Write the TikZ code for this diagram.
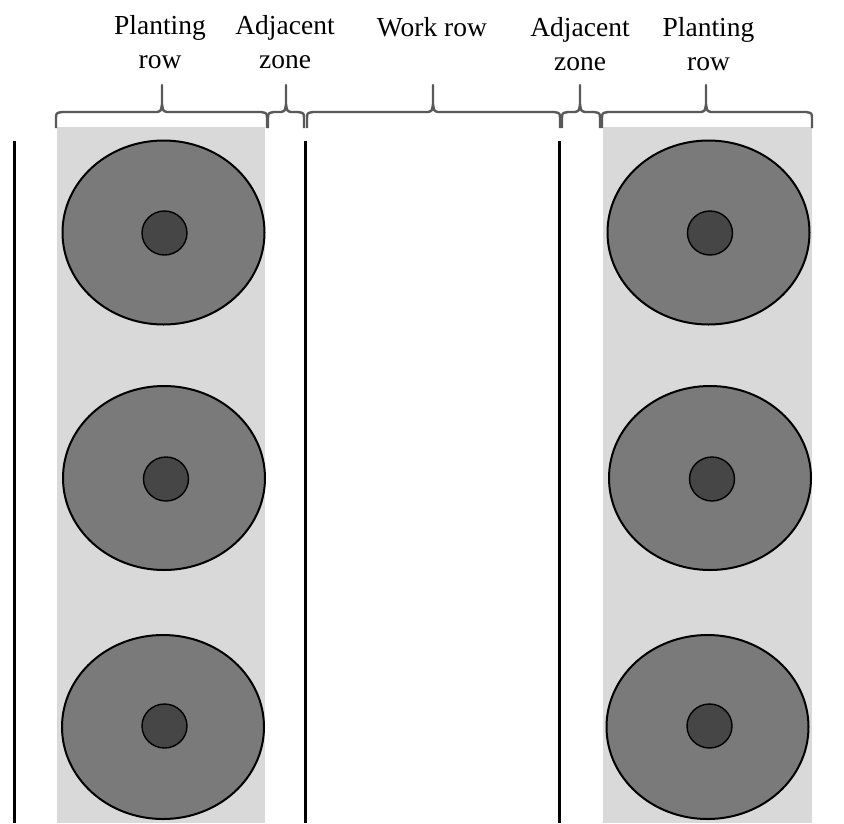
\documentclass[tikz,border=0pt]{standalone}
\usepackage{fontspec}
\setmainfont{Liberation Serif}
\definecolor{zonegray}{HTML}{D9D9D9}
\definecolor{canopy}{HTML}{7A7A7A}
\definecolor{trunk}{HTML}{464646}
\definecolor{bracegray}{HTML}{595959}
\tikzset{
  zone/.style={fill=zonegray, draw=none},
  canopyshape/.style={fill=canopy, draw=black, line width=2pt},
  trunkshape/.style={fill=trunk, draw=black, line width=1.4pt},
  rowline/.style={draw=black, line width=3pt},
  bracepath/.style={draw=bracegray, line width=2.4pt, line join=round},
  lbl/.style={font=\fontsize{27.5}{34}\selectfont, align=center, anchor=base, inner sep=0pt}
}
\newcommand{\topbrace}[3]{%
  \draw[bracepath] (#1,128) -- (#1,119) .. controls (#1,113) .. ({#1+6},112)
    -- ({#2-5},112) .. controls ({#2-1},111) .. (#2,104) -- (#2,85)
    -- (#2,104) .. controls ({#2+1},111) .. ({#2+5},112)
    -- ({#3-6},112) .. controls (#3,113) .. (#3,119) -- (#3,128);}
\begin{document}
\begin{tikzpicture}[x=1pt, y=-1pt]
\useasboundingbox (0,0) rectangle (844,823);
% zones
\fill[zone] (57,127) rectangle (265,823);
\fill[zone] (603,127) rectangle (812,823);
% row lines
\coordinate (l1t) at (14.5,141); \coordinate (l1b) at (14.5,823);
\coordinate (l2t) at (305,141);  \coordinate (l2b) at (305,823);
\coordinate (l3t) at (559,141);  \coordinate (l3b) at (559,823);
\draw[rowline] (l1t) -- (l1b);
\draw[rowline] (l2t) -- (l2b);
\draw[rowline] (l3t) -- (l3b);
% trees left
\draw[canopyshape] (163.5,232.5) ellipse [x radius=101, y radius=92];
\draw[trunkshape] (164.5,233) ellipse [x radius=22.5, y radius=22];
\draw[canopyshape] (164,478) ellipse [x radius=101, y radius=92];
\draw[trunkshape] (166,479) ellipse [x radius=22.5, y radius=22];
\draw[canopyshape] (163,727) ellipse [x radius=101, y radius=92];
\draw[trunkshape] (164.5,726) ellipse [x radius=22.5, y radius=22];
% trees right
\draw[canopyshape] (708.5,232.5) ellipse [x radius=101, y radius=92];
\draw[trunkshape] (710,233) ellipse [x radius=22.5, y radius=22];
\draw[canopyshape] (710,478) ellipse [x radius=101, y radius=92];
\draw[trunkshape] (712,479) ellipse [x radius=22.5, y radius=22];
\draw[canopyshape] (707.5,727) ellipse [x radius=101, y radius=92];
\draw[trunkshape] (709.5,726) ellipse [x radius=22.5, y radius=22];
% braces
\topbrace{56}{162}{267}
\topbrace{268}{286}{304}
\topbrace{307}{433}{560}
\topbrace{562}{580}{600}
\topbrace{602}{706}{812}
% labels (base anchor = last line's baseline)
\node[lbl] (plantL) at (160,68) {Planting\\row};
\node[lbl] (adjL) at (285,68) {Adjacent\\zone};
\node[lbl] (work) at (432,36) {Work row};
\node[lbl] (adjR) at (580,70.5) {Adjacent\\zone};
\node[lbl] (plantR) at (708.5,70.5) {Planting\\row};
\end{tikzpicture}
\end{document}
